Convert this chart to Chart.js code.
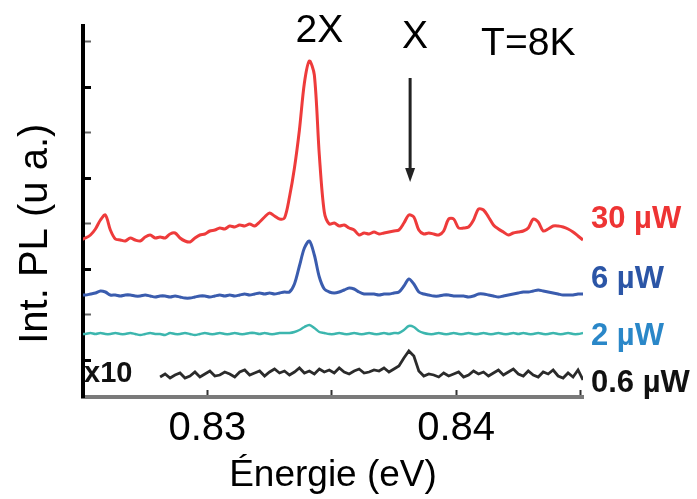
<!DOCTYPE html>
<html>
<head>
<meta charset="utf-8">
<script src="https://cdn.jsdelivr.net/npm/chart.js@4.4.1/dist/chart.umd.min.js"></script>
<style>
  html, body { margin: 0; padding: 0; background: #fff; }
  canvas { display: block; }
</style>
</head>
<body>
<canvas id="plChart" width="697" height="499"></canvas>
<script>
// photon energy (eV), one sample every 0.2 meV
const energy = [
  0.8249,0.8251,0.8253,0.8255,0.8257,0.8259,0.8261,0.8263,0.8265,0.8267,
  0.8269,0.8271,0.8273,0.8275,0.8277,0.8279,0.8281,0.8283,0.8285,0.8287,
  0.8289,0.8291,0.8293,0.8295,0.8297,0.8299,0.8301,0.8303,0.8305,0.8307,
  0.8309,0.8311,0.8313,0.8315,0.8317,0.8319,0.8321,0.8323,0.8325,0.8327,
  0.8329,0.8331,0.8333,0.8335,0.8337,0.8339,0.8341,0.8343,0.8345,0.8347,
  0.8349,0.8351,0.8353,0.8355,0.8357,0.8359,0.8361,0.8363,0.8365,0.8367,
  0.8369,0.8371,0.8373,0.8375,0.8377,0.8379,0.8381,0.8383,0.8385,0.8387,
  0.8389,0.8391,0.8393,0.8395,0.8397,0.8399,0.8401,0.8403,0.8405,0.8407,
  0.8409,0.8411,0.8413,0.8415,0.8417,0.8419,0.8421,0.8423,0.8425,0.8427,
  0.8429,0.8431,0.8433,0.8435,0.8437,0.8439,0.8441,0.8443,0.8445,0.8447,
  0.8449,0.8451
];

// PL intensity (arb. units, spectra already offset vertically)
const pl30uW = [
  211,213,216,222,231,236,221,212,211,210,
  213,211,210,214,216,213,214,213,217,218,
  213,210,209,213,216,217,220,221,223,222,
  225,224,226,225,227,225,229,234,238,235,
  232,233,254,283,321,368,390,376,296,239,
  227,228,225,226,223,221,216,218,217,219,
  217,218,219,220,221,228,236,234,221,217,
  218,217,216,220,232,232,223,223,224,231,
  242,241,234,226,222,219,216,218,219,220,
  223,232,229,220,222,225,225,224,222,219,
  215,211
];
const pl6uW = [
  156,156,157,158,160,159,156,156,155,156,
  156,155,155,156,155,154,155,155,154,155,
  154,153,153,154,155,155,154,155,156,155,
  156,155,156,157,156,157,158,157,158,157,
  158,159,159,167,185,203,210,196,174,162,
  159,158,159,161,163,162,159,157,157,157,
  156,157,157,158,159,165,172,167,159,157,
  156,155,155,156,156,155,155,155,154,155,
  157,157,156,155,154,155,156,157,158,159,
  159,160,161,160,159,158,157,156,156,156,
  157,157
];
const pl2uW = [
  117,117,118,117,118,117,117,118,117,117,
  118,117,116,117,118,117,117,116,118,117,
  117,118,117,116,117,118,117,117,118,117,
  117,118,117,117,118,118,117,118,117,117,
  118,118,118,119,121,124,126,123,119,118,
  117,117,118,117,117,118,117,117,118,117,
  117,118,117,118,118,121,125,124,120,118,
  117,117,118,117,117,118,117,117,118,117,
  117,118,117,117,118,117,117,118,117,118,
  117,117,118,117,117,118,117,117,118,117,
  117,118
];
// 0.6 uW spectrum, multiplied by 10
const pl06uW = [
  null,null,null,null,null,null,null,null,null,null,
  null,null,null,null,null,null,74,77,73,76,
  78,73,75,79,74,77,80,75,76,79,
  77,74,79,81,76,78,80,75,79,82,
  78,80,76,79,83,78,80,77,82,79,
  81,78,83,79,77,80,82,78,79,81,
  80,83,79,82,85,93,100,95,80,75,
  77,76,74,78,75,77,79,74,76,80,
  77,79,75,78,81,76,79,82,77,75,
  80,76,74,79,77,81,75,73,78,74,
  81,71
];

const seriesNames = ['30 µW', '6 µW', '2 µW', '0.6 µW'];
const xTickLabels = ['0.83', '0.84'];

// where the text annotations sit (data coordinates)
const seriesLabelLevel = [232, 172, 115, 68];
const seriesLabelColor = ['#ee3434', '#2b55a6', '#2a87c8', '#111111'];
const peakNotes = [
  { text: '2X', e: 0.8345, v: 409 },
  { text: 'X', e: 0.83835, v: 403 },
  { text: 'T=8K', e: 0.8429, v: 396 }
];
const arrow = { e: 0.83815, from: 373, to: 269 };

const FONT = '"Liberation Sans", Arial, sans-serif';

function toPoints(values) {
  return energy.map((e, i) => ({ x: e, y: values[i] }));
}

const notesPlugin = {
  id: 'notes',
  afterDatasetsDraw(chart) {
    const { ctx, chartArea, scales: { x, y } } = chart;
    ctx.save();
    ctx.fillStyle = '#000';
    ctx.textBaseline = 'alphabetic';
    ctx.textAlign = 'center';
    ctx.font = '39px ' + FONT;
    peakNotes.forEach(n => {
      ctx.fillText(n.text, x.getPixelForValue(n.e), y.getPixelForValue(n.v));
    });

    // arrow pointing at the X line
    const ax = x.getPixelForValue(arrow.e);
    const ay1 = y.getPixelForValue(arrow.from);
    const ay2 = y.getPixelForValue(arrow.to);
    ctx.strokeStyle = '#222';
    ctx.lineWidth = 3;
    ctx.beginPath();
    ctx.moveTo(ax, ay1);
    ctx.lineTo(ax, ay2 - 10);
    ctx.stroke();
    ctx.fillStyle = '#222';
    ctx.beginPath();
    ctx.moveTo(ax - 5, ay2 - 14);
    ctx.lineTo(ax + 5, ay2 - 14);
    ctx.lineTo(ax, ay2);
    ctx.closePath();
    ctx.fill();

    // power labels on the right
    ctx.textAlign = 'left';
    ctx.textBaseline = 'middle';
    ctx.font = 'bold 31px ' + FONT;
    seriesNames.forEach((name, i) => {
      ctx.fillStyle = seriesLabelColor[i];
      ctx.fillText(name, chartArea.right + 8, y.getPixelForValue(seriesLabelLevel[i]));
    });

    ctx.fillStyle = '#111';
    ctx.font = 'bold 29px ' + FONT;
    ctx.fillText('x10', chartArea.left + 1, y.getPixelForValue(77));
    ctx.restore();
  }
};

new Chart(document.getElementById('plChart'), {
  type: 'line',
  data: {
    datasets: [
      { label: seriesNames[3], data: toPoints(pl06uW), borderColor: '#2b2b2b', borderWidth: 2.8, tension: 0 },
      { label: seriesNames[2], data: toPoints(pl2uW), borderColor: '#3cb6ae', borderWidth: 2.5, tension: 0.3 },
      { label: seriesNames[1], data: toPoints(pl6uW), borderColor: '#3a5cae', borderWidth: 3, tension: 0.3 },
      { label: seriesNames[0], data: toPoints(pl30uW), borderColor: '#ee3b3b', borderWidth: 3, tension: 0.3 }
    ]
  },
  options: {
    responsive: false,
    animation: false,
    devicePixelRatio: 1,
    layout: { padding: { top: 26, right: 114, bottom: 0, left: 0 } },
    elements: { point: { radius: 0 } },
    plugins: { legend: { display: false }, tooltip: { enabled: false } },
    scales: {
      x: {
        type: 'linear',
        min: 0.825,
        max: 0.8451,
        afterFit: s => { s.height = 102; },
        ticks: {
          stepSize: 0.005,
          includeBounds: false,
          autoSkip: false,
          maxRotation: 0,
          padding: 15,
          color: '#000',
          font: { family: FONT, size: 40 },
          callback: v => {
            const t = v.toFixed(3).replace(/0$/, '');
            return xTickLabels.includes(t) ? t : '';
          }
        },
        grid: { drawOnChartArea: false, tickLength: -7, tickColor: '#333', tickWidth: 2 },
        border: { color: '#7a7a7a', width: 4 },
        title: {
          display: true,
          text: 'Énergie (eV)',
          color: '#000',
          font: { family: FONT, size: 37 },
          padding: { top: 0, bottom: 1 }
        }
      },
      y: {
        min: 54,
        max: 425,
        afterFit: s => { s.width = 83; },
        ticks: { display: false, stepSize: 45.5, includeBounds: false },
        grid: {
          drawOnChartArea: false,
          tickLength: -8,
          tickColor: c => (Math.abs(c.tick.value % 91) < 0.01 ? '#000' : '#666'),
          tickWidth: c => (Math.abs(c.tick.value % 91) < 0.01 ? 3 : 2)
        },
        border: { color: '#000', width: 4 },
        title: {
          display: true,
          text: 'Int. PL (u a.)\u00a0\u00a0\u00a0\u00a0',
          color: '#000',
          font: { family: FONT, size: 40 },
          padding: { top: 12, bottom: 0 }
        }
      }
    }
  },
  plugins: [notesPlugin]
});
</script>
</body>
</html>
